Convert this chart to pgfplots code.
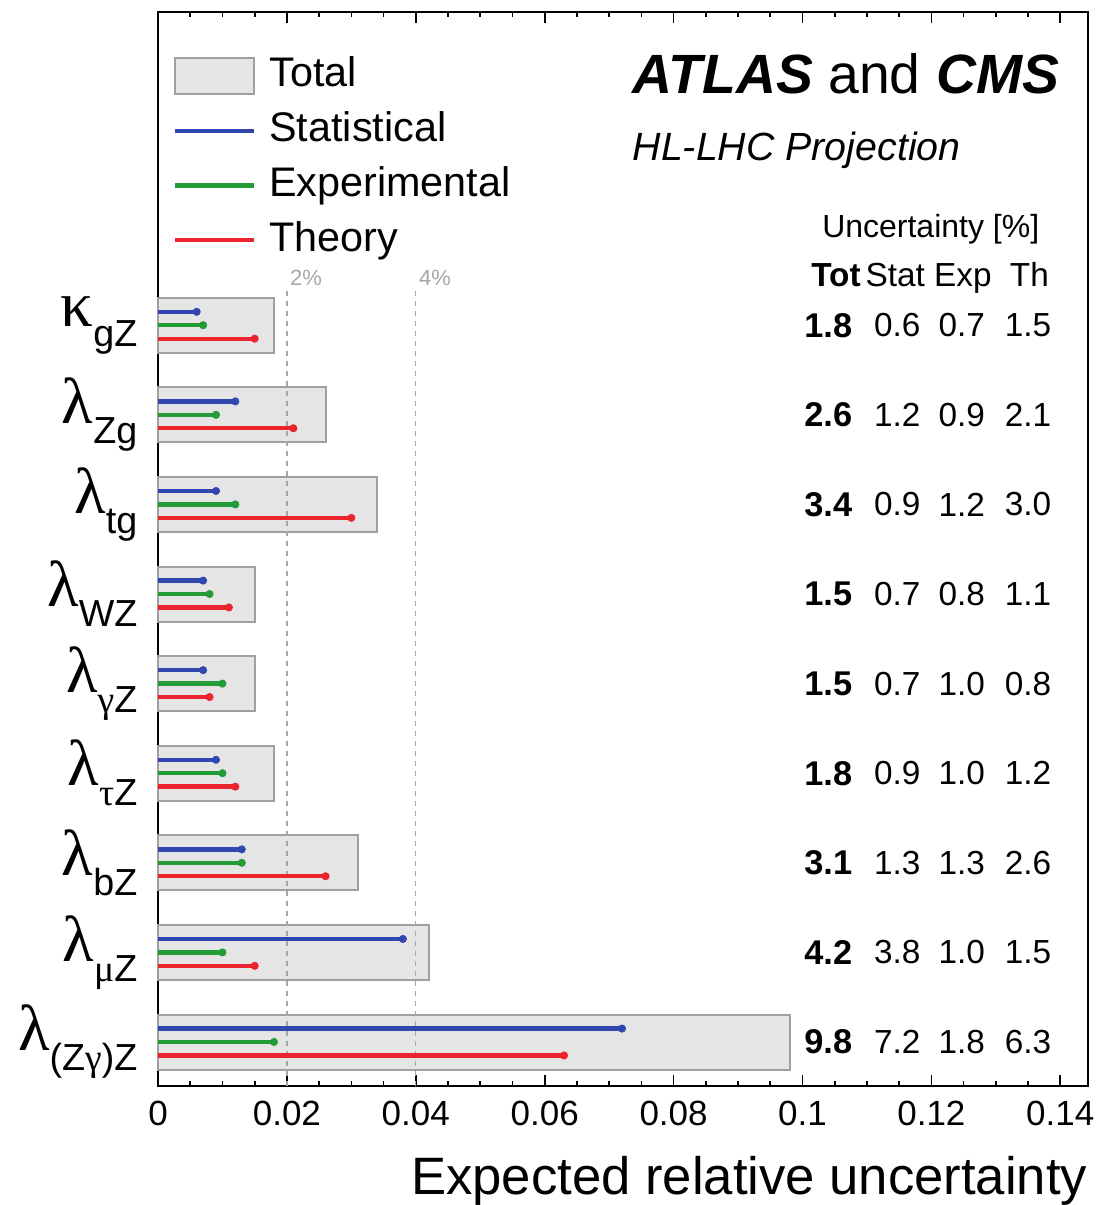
\documentclass[border=0pt]{standalone}
\usepackage{pgfplots}
\pgfplotsset{compat=1.18}
\usepackage{pgfplotstable}
\usepackage{fontspec}
\setmainfont{Liberation Sans}
\newfontfamily\grk{Liberation Serif}
\definecolor{cblue}{RGB}{50,70,175}
\definecolor{cgreen}{RGB}{35,155,55}
\definecolor{cred}{RGB}{235,35,45}
\definecolor{boxfill}{RGB}{229,229,229}
\definecolor{boxdraw}{RGB}{160,160,160}
\newcommand{\ylab}[2]{{\grk\fontsize{19.5}{19.5}\selectfont #1}\raisebox{-6pt}{\fontsize{11.3}{13}\selectfont #2}}
\newcommand{\sg}[1]{{\grk #1}}

\pgfplotstableread{
y tot stat exp th
9 1.8 0.6 0.7 1.5
8 2.6 1.2 0.9 2.1
7 3.4 0.9 1.2 3.0
6 1.5 0.7 0.8 1.1
5 1.5 0.7 1.0 0.8
4 1.8 0.9 1.0 1.2
3 3.1 1.3 1.3 2.6
2 4.2 3.8 1.0 1.5
1 9.8 7.2 1.8 6.3
}\data

\begin{document}
\begin{tikzpicture}
\begin{axis}[
  name=ax,
  scale only axis, width=279pt, height=322.2pt,
  xmin=0, xmax=0.1443, ymin=0.509, ymax=12.496,
  xtick={0,0.02,0.04,0.06,0.08,0.1,0.12,0.14},
  xticklabels={0,0.02,0.04,0.06,0.08,0.1,0.12,0.14},
  minor x tick num=3,
  ytick={1,2,3,4,5,6,7,8,9},
  yticklabels={
    \ylab{λ}{(Z\sg{γ})Z},
    \ylab{λ}{\sg{μ}Z},
    \ylab{λ}{bZ},
    \ylab{λ}{\sg{τ}Z},
    \ylab{λ}{\sg{γ}Z},
    \ylab{λ}{WZ},
    \ylab{λ}{tg},
    \ylab{λ}{Zg},
    \ylab{κ}{gZ}},
  ytick style={draw=none},
  tick align=inside,
  major tick length=3.3pt, minor tick length=1.5pt,
  axis line style={line width=0.8pt},
  tick style={black, line width=0.5pt},
  xticklabel style={font=\fontsize{10.5}{12}\selectfont, inner sep=0pt, yshift=-4.2pt},
  yticklabel style={inner sep=0pt, xshift=-6pt},
  xlabel={Expected relative uncertainty},
  xlabel style={font=\fontsize{15.8}{18}\selectfont, at={(rel axis cs:1,0)}, anchor=north east, inner sep=0pt, yshift=-21pt},
  legend style={at={(axis cs:0.00264,12.1)}, anchor=north west, xshift=-3.9pt, yshift=-0.6pt, draw=none, fill=none,
    font=\fontsize{12.4}{14}\selectfont, row sep=4.9pt, column sep=4pt,
    nodes={inner sep=0pt, text height=9pt, text depth=2.5pt}, cells={anchor=west}},
  legend cell align=left,
  clip=false,
]
\addplot[xbar, bar width=0.614, bar shift=0pt, fill=boxfill, draw=boxdraw, line width=0.6pt,
  legend image code/.code={\draw[fill=boxfill, draw=boxdraw, line width=0.6pt] (0pt,-5.5pt) rectangle (23.7pt,5.5pt);}]
  table[x expr=\thisrow{tot}/100, y=y]{\data};
\addlegendentry{Total}
\addplot[gray!70, dash pattern=on 1.5pt off 1.5pt, line width=0.4pt, forget plot] coordinates {(0.02,0.509) (0.02,9.426)};
\addplot[gray!70, dash pattern=on 1.5pt off 1.5pt, line width=0.4pt, forget plot] coordinates {(0.04,0.509) (0.04,9.426)};
\addplot[xcomb, cblue, line width=1.3pt, mark=*, mark size=1.1pt, mark options={line width=0.2pt},
  legend image code/.code={\draw[line width=1.3pt, cblue] (0pt,0pt) -- (23.7pt,0pt);}]
  table[x expr=\thisrow{stat}/100, y expr=\thisrow{y}+0.15]{\data};
\addlegendentry{Statistical}
\addplot[xcomb, cgreen, line width=1.3pt, mark=*, mark size=1.1pt, mark options={line width=0.2pt},
  legend image code/.code={\draw[line width=1.3pt, cgreen] (0pt,0pt) -- (23.7pt,0pt);}]
  table[x expr=\thisrow{exp}/100, y=y]{\data};
\addlegendentry{Experimental}
\addplot[xcomb, cred, line width=1.3pt, mark=*, mark size=1.1pt, mark options={line width=0.2pt},
  legend image code/.code={\draw[line width=1.3pt, cred] (0pt,0pt) -- (23.7pt,0pt);}]
  table[x expr=\thisrow{th}/100, y expr=\thisrow{y}-0.15]{\data};
\addlegendentry{Theory}
% table of numbers
\addplot[draw=none, mark=none, forget plot, nodes near coords, point meta=explicit symbolic,
  nodes near coords style={anchor=center, font=\bfseries\fontsize{10.3}{12}\selectfont, inner sep=0pt}]
  table[x expr=0.1040, y=y, meta=tot]{\data};
\addplot[draw=none, mark=none, forget plot, nodes near coords, point meta=explicit symbolic,
  nodes near coords style={anchor=center, font=\fontsize{10}{12}\selectfont, inner sep=0pt}]
  table[x expr=0.1147, y=y, meta=stat]{\data};
\addplot[draw=none, mark=none, forget plot, nodes near coords, point meta=explicit symbolic,
  nodes near coords style={anchor=center, font=\fontsize{10}{12}\selectfont, inner sep=0pt}]
  table[x expr=0.1247, y=y, meta=exp]{\data};
\addplot[draw=none, mark=none, forget plot, nodes near coords, point meta=explicit symbolic,
  nodes near coords style={anchor=center, font=\fontsize{10}{12}\selectfont, inner sep=0pt}]
  table[x expr=0.1350, y=y, meta=th]{\data};
% annotations
\node[anchor=south west, inner sep=0pt, font=\fontsize{6.6}{8}\selectfont, text=gray!70] at (axis cs:0.0204,9.43) {2\%};
\node[anchor=south west, inner sep=0pt, font=\fontsize{6.6}{8}\selectfont, text=gray!70] at (axis cs:0.0404,9.43) {4\%};
\node[anchor=base west, inner sep=0pt, font=\fontsize{16.6}{18}\selectfont] at (axis cs:0.07355,11.59) {\textbf{\textit{ATLAS}} and \textbf{\textit{CMS}}};
\node[anchor=base west, inner sep=0pt, font=\itshape\fontsize{11.8}{14}\selectfont] at (axis cs:0.07355,10.84) {HL-LHC Projection};
\node[anchor=base, inner sep=0pt, font=\fontsize{9.6}{12}\selectfont] at (axis cs:0.1199,9.98) {Uncertainty [\%]};
\node[anchor=base, inner sep=0pt, font=\bfseries\fontsize{10}{12}\selectfont] at (axis cs:0.1052,9.43) {Tot};
\node[anchor=base, inner sep=0pt, font=\fontsize{10}{12}\selectfont] at (axis cs:0.1144,9.43) {Stat};
\node[anchor=base, inner sep=0pt, font=\fontsize{10}{12}\selectfont] at (axis cs:0.1249,9.43) {Exp};
\node[anchor=base, inner sep=0pt, font=\fontsize{10}{12}\selectfont] at (axis cs:0.1352,9.43) {Th};
\end{axis}
\pgfresetboundingbox
\useasboundingbox ([xshift=-47.4pt,yshift=-35.7pt]ax.south west) rectangle ([xshift=2.7pt,yshift=3.6pt]ax.north east);
\end{tikzpicture}
\end{document}
